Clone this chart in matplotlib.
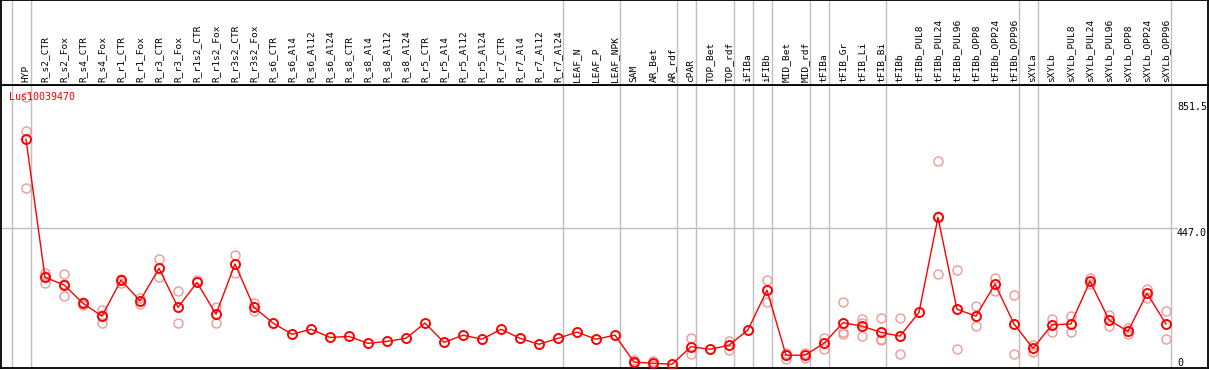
"""Lus10039470 expression profile across samples (replicates + mean)."""

import numpy as np
import matplotlib
matplotlib.use("Agg")
import matplotlib.pyplot as plt

plt.rcParams["font.family"] = ["DejaVu Sans Mono"]

W, H = 1209, 370  # output size, px

GENE = "Lus10039470"
SAMPLES = [
    "HYP",
    "R_s2_CTR", "R_s2_Fox", "R_s4_CTR", "R_s4_Fox", "R_r1_CTR", "R_r1_Fox",
    "R_r3_CTR", "R_r3_Fox", "R_r1s2_CTR", "R_r1s2_Fox", "R_r3s2_CTR", "R_r3s2_Fox",
    "R_s6_CTR", "R_s6_Al4", "R_s6_Al12", "R_s6_Al24",
    "R_s8_CTR", "R_s8_Al4", "R_s8_Al12", "R_s8_Al24",
    "R_r5_CTR", "R_r5_Al4", "R_r5_Al12", "R_r5_Al24",
    "R_r7_CTR", "R_r7_Al4", "R_r7_Al12", "R_r7_Al24",
    "LEAF_N", "LEAF_P", "LEAF_NPK",
    "SAM", "AR_Bet", "AR_rdf", "cPAR", "TOP_Bet", "TOP_rdf",
    "iFIBa", "iFIBb", "MID_Bet", "MID_rdf",
    "tFIBa", "tFIB_Gr", "tFIB_Li", "tFIB_Bi", "tFIBb",
    "tFIBb_PUL8", "tFIBb_PUL24", "tFIBb_PUL96", "tFIBb_OPP8", "tFIBb_OPP24", "tFIBb_OPP96",
    "sXYLa", "sXYLb",
    "sXYLb_PUL8", "sXYLb_PUL24", "sXYLb_PUL96", "sXYLb_OPP8", "sXYLb_OPP24", "sXYLb_OPP96",
]

MEANS = [
    732,
    290, 266, 207, 166, 281, 215, 319, 194, 274, 172, 333, 194,
    144, 108, 124, 98, 101, 79, 85, 95, 144, 82, 105, 92, 124, 95, 76, 95,
    115, 92, 105,
    19, 15, 12, 68, 60, 73,
    122, 249, 41, 41,
    79, 145, 134, 114, 102,
    178, 482, 188, 166, 269, 141,
    63, 138,
    141, 278, 154, 117, 239, 141,
]

# replicate values (empty where only the mean is shown)
REPS = [
    [868, 759, 575],
    [304, 273, 294], [300, 229, 268], [211, 202], [186, 145, 169],
    [284, 273], [223, 204], [349, 290], [246, 143], [282],
    [195, 145], [362, 305], [207, 183],
    [], [], [], [], [], [], [], [], [], [], [], [], [], [], [], [],
    [], [], [],
    [26, 16], [22, 10], [], [95, 45], [], [87, 58],
    [], [281, 212], [49, 30], [49, 32],
    [95, 60], [210, 116, 109], [156, 102, 144], [159, 93, 90], [159, 44, 103],
    [], [661, 300, 485], [314, 61], [198, 134], [287, 247], [234, 44],
    [74, 52], [157, 114],
    [166, 114], [287, 269], [170, 134], [127, 108], [253, 225], [183, 94],
]

# group boundaries sit just after these sample indices
SEPARATORS = [-1, 0, 28, 31, 34, 35, 37, 38, 39, 41, 42, 45, 52, 53, 60]
Y_TICKS = [851.5, 447.0, 0]

# pixel layout
X0_PX, DX_PX = 26, 19        # first sample x, spacing
HEAD_PX, BOT_PX = 85, 368    # header line, plot bottom (from top)
PX_PER_UNIT = 1 / 3.2
GRID = "#c0c0c0"
REP_COLOR = "#eb9a9a"

fig = plt.figure(figsize=(W / 100, H / 100), dpi=100)
xlim = ((1 - X0_PX) / DX_PX, (W - 1 - X0_PX) / DX_PX)

ax = fig.add_axes([1 / W, (H - BOT_PX) / H, (W - 2) / W, (BOT_PX - HEAD_PX) / H])
hx = fig.add_axes([1 / W, (H - HEAD_PX) / H, (W - 2) / W, HEAD_PX / H])

for a in (ax, hx):
    a.set_xlim(*xlim)
    a.set_xticks([])
    a.set_yticks([])
    for s in a.spines.values():
        s.set_color("black")
        s.set_linewidth(1.3)
    for b in SEPARATORS:
        a.axvline(b + 0.25, color=GRID, lw=1, zorder=0)

ax.set_ylim(0, (BOT_PX - HEAD_PX) / PX_PER_UNIT)
hx.set_ylim(HEAD_PX, 0)

# header labels
for i, name in enumerate(SAMPLES):
    hx.text(i, 82, name, rotation=90, ha="center", va="bottom", fontsize=6.8)

# 447 grid line stops at the tick labels
x_lab = (1177 - X0_PX) / DX_PX
ax.plot([xlim[0], x_lab], [447, 447], color=GRID, lw=1, zorder=0)

# replicates
for i, r in enumerate(REPS):
    if r:
        ax.plot([i] * len(r), r, ls="none", marker="o", ms=6.5, mfc="none",
                mec=REP_COLOR, mew=1.0, zorder=2)

x = np.arange(len(SAMPLES))
ax.plot(x, MEANS, color="red", lw=1, marker="o", ms=6.5, mfc="none",
        mec="red", mew=1.4, zorder=3)

# value labels on the right
for v in Y_TICKS:
    ax.text(x_lab, v, f"{v:.1f}" if v else "0", ha="left",
            va="bottom" if v == 0 else "top", fontsize=7.2)

fig.text(9 / W, 1 - 97 / H, GENE, color="red", fontsize=7.2, va="center", ha="left")

fig.savefig("out.png", dpi=100)
